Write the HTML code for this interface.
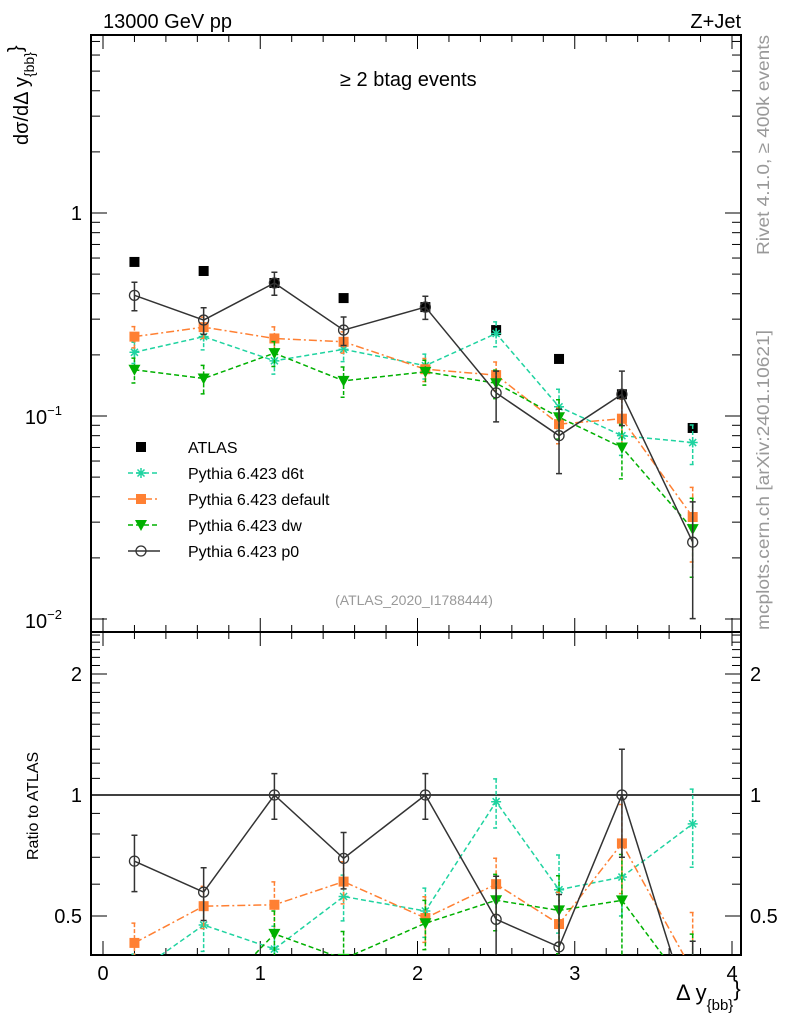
<!DOCTYPE html>
<html><head><meta charset="utf-8"><style>
html,body{margin:0;padding:0;background:#fff;width:786px;height:1024px;overflow:hidden;}
svg{display:block;font-family:"Liberation Sans",sans-serif;}
</style></head><body>
<svg id="chart" width="786" height="1024" viewBox="0 0 786 1024" xmlns="http://www.w3.org/2000/svg">
<defs>
<clipPath id="clipMain"><rect x="91" y="35" width="650" height="597"/></clipPath>
<clipPath id="clipRatio"><rect x="91" y="632" width="650" height="323"/></clipPath>
</defs>
<g id="axes"></g>
<g id="mainMarks" clip-path="url(#clipMain)"></g>
<g id="ratioMarks" clip-path="url(#clipRatio)"></g>
<g id="legend"></g>
<text x="103" y="28" font-size="20">13000 GeV pp</text>
<text x="741" y="28" font-size="20" text-anchor="end">Z+Jet</text>
<text x="340" y="86" font-size="20">≥ 2 btag events</text>
<text x="414" y="605" font-size="14" fill="#999" text-anchor="middle">(ATLAS_2020_I1788444)</text>
<text transform="translate(769,255) rotate(-90)" font-size="17.5" fill="#999" textLength="220" lengthAdjust="spacingAndGlyphs">Rivet 4.1.0, ≥ 400k events</text>
<text transform="translate(769,630) rotate(-90)" font-size="17.5" fill="#999" textLength="300" lengthAdjust="spacingAndGlyphs">mcplots.cern.ch [arXiv:2401.10621]</text>
<text transform="translate(28,145) rotate(-90)" font-size="20">dσ/dΔ y<tspan font-size="14" dy="6">{bb}</tspan><tspan dy="-12">}</tspan></text>
<text transform="translate(38,860) rotate(-90)" font-size="16">Ratio to ATLAS</text>
<text x="676" y="1000" font-size="22">Δ y<tspan font-size="15" dy="10">{bb}</tspan><tspan font-size="22" dy="-14">}</tspan></text>
</svg>
<script>
const bins = [0.2, 0.64, 1.09, 1.53, 2.05, 2.5, 2.9, 3.3, 3.75];
const atlasVals = [0.574, 0.518, 0.452, 0.381, 0.344, 0.265, 0.191, 0.128, 0.0873];
const d6tVals = [0.206, 0.246, 0.187, 0.213, 0.177, 0.255, 0.111, 0.080, 0.074];
const d6tErr = [0.12, 0.14, 0.14, 0.13, 0.14, 0.14, 0.22, 0.2, 0.22];
const defaultVals = [0.246, 0.274, 0.241, 0.232, 0.170, 0.159, 0.0912, 0.097, 0.0318];
const defaultErr = [0.12, 0.12, 0.14, 0.12, 0.13, 0.16, 0.2, 0.25, 0.4];
const dwVals = [0.169, 0.153, 0.204, 0.149, 0.165, 0.145, 0.0986, 0.070, 0.0277];
const dwErr = [0.14, 0.16, 0.14, 0.17, 0.14, 0.16, 0.22, 0.3, 0.42];
const p0Vals = [0.393, 0.297, 0.452, 0.265, 0.344, 0.130, 0.080, 0.128, 0.0239];
const p0Err = [0.16, 0.15, 0.13, 0.16, 0.13, 0.28, 0.35, 0.3, 0.58];
const xTickLabels = ["0", "1", "2", "3", "4"];
const ratioTickLabels = ["0.5", "1", "2"];

const NS = "http://www.w3.org/2000/svg";
const L = 91, R = 741, T = 35, MB = 632, RB = 955;
const xs = v => 103 + v * 157.25;
const ym = v => 213 - 203 * Math.log10(v);
const yr = v => 795 - 121 * Math.log2(v);
function mk(tag, attrs, parent) { const e = document.createElementNS(NS, tag); for (const k in attrs) e.setAttribute(k, attrs[k]); parent.appendChild(e); return e; }
const axes = document.getElementById('axes');
const mainG = document.getElementById('mainMarks');
const ratioG = document.getElementById('ratioMarks');
const legG = document.getElementById('legend');

let f1 = mk('rect', {x: L, y: T, width: R - L, height: MB - T, fill: 'none', stroke: '#000', 'stroke-width': 2}, axes);


let f2 = mk('rect', {x: L, y: MB, width: R - L, height: RB - MB, fill: 'none', stroke: '#000', 'stroke-width': 2}, axes);



for (let i = 0; i <= 20; i++) {
  const v = i * 0.2; const x = xs(v); const major = i % 5 === 0;
  const len = major ? 14 : 7;
  [[T, 1], [MB, -1], [MB, 1], [RB, -1]].forEach(([y0, d]) => {
    mk('line', {x1: x, x2: x, y1: y0, y2: y0 + d * len, stroke: '#000', 'stroke-width': 1}, axes);
  });
}
xTickLabels.forEach((lab, i) => {
  const t = mk('text', {x: xs(+lab), y: 980, 'font-size': 20, 'text-anchor': 'middle'}, axes);
  t.textContent = lab;
  
  
});

for (let e = -2; e <= 0; e++) {
  for (let m = 1; m <= 9; m++) {
    const v = m * Math.pow(10, e); const y = ym(v);
    if (y < T || y > MB) continue;
    const len = m === 1 ? 16 : 9;
    mk('line', {x1: L, x2: L + len, y1: y, y2: y, stroke: '#000'}, axes);
    mk('line', {x1: R, x2: R - len, y1: y, y2: y, stroke: '#000'}, axes);
  }
}
const yl1 = mk('text', {x: 82, y: 220, 'font-size': 20, 'text-anchor': 'end'}, axes);
yl1.textContent = '1';


[[-1, 424], [-2, 628]].forEach(([e, y]) => {
  const t = mk('text', {x: 62, y: y, 'font-size': 20, 'text-anchor': 'end'}, axes);
  t.innerHTML = '10<tspan font-size="13" dy="-9">' + e.toString().replace('-', '−') + '</tspan>';
  
  
});

const rTicks = [];
for (let v = 0.4; v < 1.0; v += 0.1) rTicks.push(+v.toFixed(1));
for (let v = 1.0; v <= 2.6; v += 0.1) rTicks.push(+v.toFixed(1));
rTicks.forEach(v => {
  const y = yr(v); if (y < MB || y > RB) return;
  const major = (v === 0.5 || v === 1 || v === 2);
  const len = major ? 16 : 9;
  mk('line', {x1: L, x2: L + len, y1: y, y2: y, stroke: '#000'}, axes);
  mk('line', {x1: R, x2: R - len, y1: y, y2: y, stroke: '#000'}, axes);
});
ratioTickLabels.forEach(lab => {
  const y = yr(+lab) + 7;
  const a = mk('text', {x: 82, y: y, 'font-size': 20, 'text-anchor': 'end'}, axes);
  a.textContent = lab;
  
  
  const b = mk('text', {x: 750, y: y, 'font-size': 20}, axes);
  b.textContent = lab;
  
  
});
let one = mk('line', {x1: L, x2: R, y1: yr(1), y2: yr(1), stroke: '#000', 'stroke-width': 1.5}, ratioG);



function marker(g, type, x, y, col) {
  if (type === 'square') return mk('rect', {x: x - 5, y: y - 5, width: 10, height: 10, fill: col}, g);
  if (type === 'tri') return mk('path', {d: `M${x-6},${y-5}L${x+6},${y-5}L${x},${y+6}Z`, fill: col}, g);
  if (type === 'circle') return mk('circle', {cx: x, cy: y, r: 5, fill: 'none', stroke: col, 'stroke-width': 1.3}, g);
  return mk('path', {d: `M${x-5},${y}H${x+5}M${x},${y-5}V${y+5}M${x-3.5},${y-3.5}L${x+3.5},${y+3.5}M${x-3.5},${y+3.5}L${x+3.5},${y-3.5}`, stroke: col, 'stroke-width': 1.5}, g);
}

const series = [
  {name: 'd6t', label: 'Pythia 6.423 d6t', vals: d6tVals, err: d6tErr, col: '#1fd3a0', dash: '5,3', m: 'star'},
  {name: 'default', label: 'Pythia 6.423 default', vals: defaultVals, err: defaultErr, col: '#ff8033', dash: '8,3,2,3', m: 'square'},
  {name: 'dw', label: 'Pythia 6.423 dw', vals: dwVals, err: dwErr, col: '#00b000', dash: '5,3', m: 'tri'},
  {name: 'p0', label: 'Pythia 6.423 p0', vals: p0Vals, err: p0Err, col: '#333', dash: '', m: 'circle'}
];

bins.forEach((b, i) => {
  const s = marker(mainG, 'square', xs(b), ym(atlasVals[i]), '#000');
  
  
});

series.forEach(s => {
  [[mainG, v => ym(v), (v, i) => v], [ratioG, v => yr(v), (v, i) => v / atlasVals[i]]].forEach(([g, yf, tr]) => {
    const pts = bins.map((b, i) => xs(b) + ',' + yf(tr(s.vals[i], i))).join(' ');
    const pl = mk('polyline', {points: pts, fill: 'none', stroke: s.col, 'stroke-width': 1.5, 'stroke-dasharray': s.dash}, g);
    
    
    bins.forEach((b, i) => {
      const v = tr(s.vals[i], i), e = s.err[i];
      const x = xs(b), y1 = yf(v * (1 + e)), y2 = yf(Math.max(v * (1 - e), 1e-4));
      const eb = mk('path', {d: `M${x},${y1}V${y2}M${x-3},${y1}H${x+3}M${x-3},${y2}H${x+3}`, stroke: s.col, 'stroke-width': 1.5, 'stroke-dasharray': s.dash ? '4,2' : ''}, g);
      
      
      const mm = marker(g, s.m, x, yf(v), s.col);
      
      
    });
  });
});

const legRows = [{label: 'ATLAS', col: '#000', m: 'square', dash: null}].concat(series.map(s => ({label: s.label, col: s.col, m: s.m, dash: s.dash})));
legRows.forEach((r, i) => {
  const y = 447 + i * 26;
  const g = mk('g', {}, legG);
  
  
  if (r.dash !== null) mk('line', {x1: 128, x2: 160, y1: y, y2: y, stroke: r.col, 'stroke-width': 1.5, 'stroke-dasharray': r.dash}, g);
  marker(g, r.m, 141, y, r.col);
  const t = mk('text', {x: 188, y: y + 6, 'font-size': 16}, g);
  t.textContent = r.label;
});
</script>
</body></html>
